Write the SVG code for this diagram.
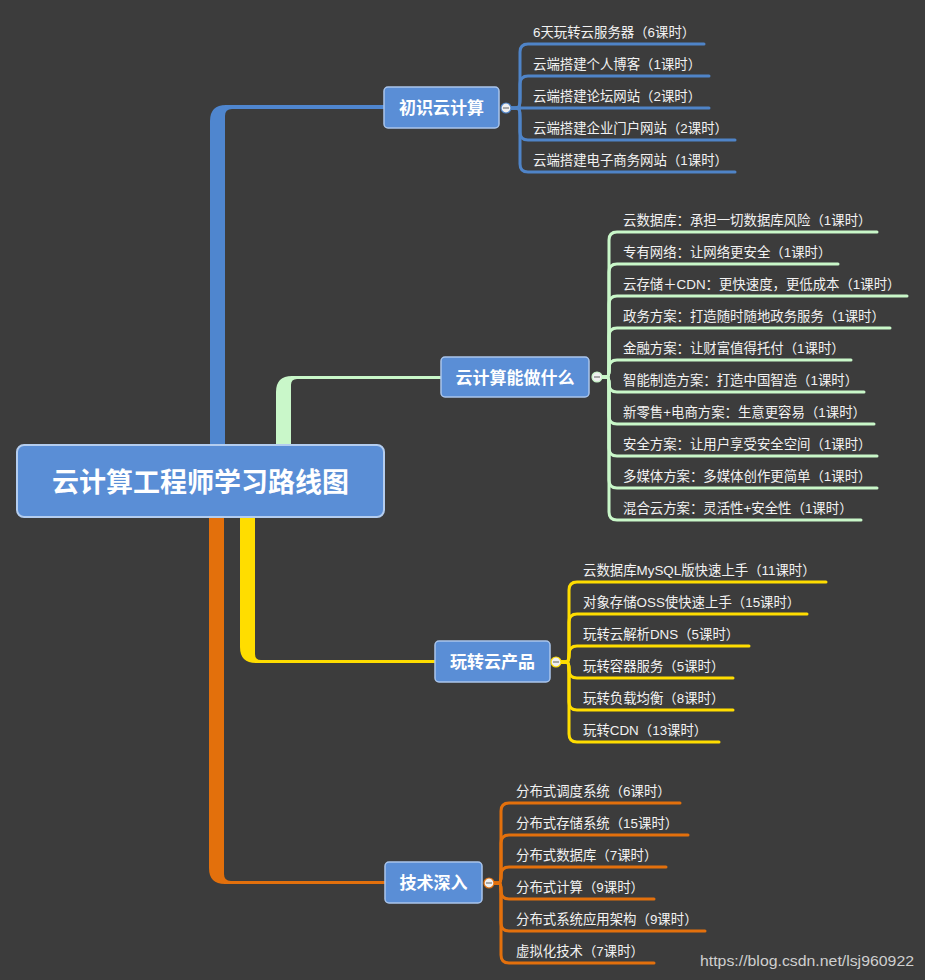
<svg xmlns="http://www.w3.org/2000/svg" width="925" height="980" viewBox="0 0 925 980">
<style>
.bg{fill:#3c3c3c}
.box{fill:#5a8ed6;stroke:#aac5ec;stroke-width:1.5}
.rootbox{fill:#5a8ed6;stroke:#b4cdef;stroke-width:2}
.rt{font-family:"Noto Sans CJK SC",sans-serif;font-weight:bold;font-size:27px;fill:#ffffff;text-anchor:middle}
.bt{font-family:"Noto Sans CJK SC",sans-serif;font-weight:bold;font-size:17px;fill:#ffffff;text-anchor:middle}
.lt{font-family:"Liberation Sans","Noto Sans CJK SC",sans-serif;font-size:13.4px;fill:#f2f2f2}
.c1{stroke:#4f84c8;fill:none;stroke-width:3;stroke-linecap:round}
.c2{stroke:#c9f7c9;fill:none;stroke-width:3;stroke-linecap:round}
.c3{stroke:#ffdd00;fill:none;stroke-width:3;stroke-linecap:round}
.c4{stroke:#e3700c;fill:none;stroke-width:3;stroke-linecap:round}
.knob{fill:#f0f0f0;stroke-width:1.2}
.minus{stroke:#777;stroke-width:1.2}
.wm{font-family:"Liberation Sans",sans-serif;font-size:15px;fill:#cfcfcf}
</style>
<rect class="bg" x="0" y="0" width="925" height="980"/>
<g id="connectors">
  <path fill="#4f86cf" d="M210 450 L210 121 Q210 105 226 105 L385 105 L385 109 L232 109 Q225 109 225 116 L225 450 Z"/>
  <path fill="#c9f7c9" d="M276 450 L276 392 Q276 376 292 376 L441 376 L441 379 L297 379 Q291 379 291 385 L291 450 Z"/>
  <path fill="#ffdd00" d="M240 512 L240 647 Q240 663 256 663 L435 663 L435 660 L261 660 Q255 660 255 654 L255 512 Z"/>
  <path fill="#e3700c" d="M209 512 L209 868 Q209 884 225 884 L385 884 L385 881 L231 881 Q224 881 224 874 L224 512 Z"/>
  <!-- branch 1 leaves -->
  <path class="c1" d="M511 108 C520 108 520 108 520 98 L520 52 Q520 44 528 44 L704 44"/>
  <path class="c1" d="M511 108 C520 108 520 108 520 98 L520 84 Q520 76 528 76 L709 76"/>
  <path class="c1" d="M511 108 L709 108"/>
  <path class="c1" d="M511 108 C520 108 520 108 520 118 L520 132 Q520 140 528 140 L735 140"/>
  <path class="c1" d="M511 108 C520 108 520 108 520 118 L520 164 Q520 172 528 172 L735 172"/>
  <!-- branch 2 leaves -->
  <path class="c2" d="M602 377 C609 377 609 377 609 367 L609 240 Q609 232 617 232 L877 232"/>
  <path class="c2" d="M602 377 C609 377 609 377 609 367 L609 272 Q609 264 617 264 L838 264"/>
  <path class="c2" d="M602 377 C609 377 609 377 609 367 L609 304 Q609 296 617 296 L907 296"/>
  <path class="c2" d="M602 377 C609 377 609 377 609 367 L609 336 Q609 328 617 328 L890 328"/>
  <path class="c2" d="M602 377 C609 377 609 377 609 368 Q609 360 617 360 L851 360"/>
  <path class="c2" d="M602 377 C609 377 609 377 609 384 Q609 392 617 392 L864 392"/>
  <path class="c2" d="M602 377 C609 377 609 377 609 387 L609 416 Q609 424 617 424 L874 424"/>
  <path class="c2" d="M602 377 C609 377 609 377 609 387 L609 448 Q609 456 617 456 L877 456"/>
  <path class="c2" d="M602 377 C609 377 609 377 609 387 L609 480 Q609 488 617 488 L877 488"/>
  <path class="c2" d="M602 377 C609 377 609 377 609 387 L609 512 Q609 520 617 520 L861 520"/>
  <!-- branch 3 leaves -->
  <path class="c3" d="M561 662 C569 662 569 662 569 652 L569 590 Q569 582 577 582 L826 582"/>
  <path class="c3" d="M561 662 C569 662 569 662 569 652 L569 622 Q569 614 577 614 L807 614"/>
  <path class="c3" d="M561 662 C569 662 569 662 569 654 Q569 646 577 646 L749 646"/>
  <path class="c3" d="M561 662 C569 662 569 662 569 670 Q569 678 577 678 L733 678"/>
  <path class="c3" d="M561 662 C569 662 569 662 569 672 L569 702 Q569 710 577 710 L733 710"/>
  <path class="c3" d="M561 662 C569 662 569 662 569 672 L569 734 Q569 742 577 742 L719 742"/>
  <!-- branch 4 leaves -->
  <path class="c4" d="M494 883 C501 883 501 883 501 873 L501 811 Q501 803 509 803 L680 803"/>
  <path class="c4" d="M494 883 C501 883 501 883 501 873 L501 843 Q501 835 509 835 L688 835"/>
  <path class="c4" d="M494 883 C501 883 501 883 501 875 Q501 867 509 867 L666 867"/>
  <path class="c4" d="M494 883 C501 883 501 883 501 891 Q501 899 509 899 L654 899"/>
  <path class="c4" d="M494 883 C501 883 501 883 501 893 L501 923 Q501 931 509 931 L705 931"/>
  <path class="c4" d="M494 883 C501 883 501 883 501 893 L501 955 Q501 963 509 963 L654 963"/>
</g>
<g id="root">
  <rect class="rootbox" x="17" y="445" width="367" height="72" rx="7"/>
  <text class="rt" x="200.5" y="492">云计算工程师学习路线图</text>
</g>
<g id="b1">
  <rect class="box" x="384" y="87" width="115" height="41" rx="4"/>
  <text class="bt" x="441.5" y="114">初识云计算</text>
  <circle class="knob" cx="506" cy="108" r="5" stroke="#4f84c8"/>
  <line class="minus" x1="503" y1="108" x2="509" y2="108"/>
</g>
<g id="b1-leaves">
  <text class="lt" x="533" y="37">6天玩转云服务器（6课时）</text>
  <text class="lt" x="533" y="69">云端搭建个人博客（1课时）</text>
  <text class="lt" x="533" y="101">云端搭建论坛网站（2课时）</text>
  <text class="lt" x="533" y="133">云端搭建企业门户网站（2课时）</text>
  <text class="lt" x="533" y="165">云端搭建电子商务网站（1课时）</text>
</g>
<g id="b2">
  <rect class="box" x="441" y="357" width="148" height="40" rx="4"/>
  <text class="bt" x="515" y="383.5">云计算能做什么</text>
  <circle class="knob" cx="597" cy="377" r="5" stroke="#c9f7c9"/>
  <line class="minus" x1="594" y1="377" x2="600" y2="377"/>
</g>
<g id="b2-leaves">
  <text class="lt" x="623" y="225">云数据库：承担一切数据库风险（1课时）</text>
  <text class="lt" x="623" y="257">专有网络：让网络更安全（1课时）</text>
  <text class="lt" x="623" y="289">云存储＋CDN：更快速度，更低成本（1课时）</text>
  <text class="lt" x="623" y="321">政务方案：打造随时随地政务服务（1课时）</text>
  <text class="lt" x="623" y="353">金融方案：让财富值得托付（1课时）</text>
  <text class="lt" x="623" y="385">智能制造方案：打造中国智造（1课时）</text>
  <text class="lt" x="623" y="417">新零售+电商方案：生意更容易（1课时）</text>
  <text class="lt" x="623" y="449">安全方案：让用户享受安全空间（1课时）</text>
  <text class="lt" x="623" y="481">多媒体方案：多媒体创作更简单（1课时）</text>
  <text class="lt" x="623" y="513">混合云方案：灵活性+安全性（1课时）</text>
</g>
<g id="b3">
  <rect class="box" x="435" y="641" width="115" height="41" rx="4"/>
  <text class="bt" x="492.5" y="668">玩转云产品</text>
  <circle class="knob" cx="556" cy="662" r="5" stroke="#ffdd00"/>
  <line class="minus" x1="553" y1="662" x2="559" y2="662"/>
</g>
<g id="b3-leaves">
  <text class="lt" x="583" y="575">云数据库MySQL版快速上手（11课时）</text>
  <text class="lt" x="583" y="607">对象存储OSS使快速上手（15课时）</text>
  <text class="lt" x="583" y="639">玩转云解析DNS（5课时）</text>
  <text class="lt" x="583" y="671">玩转容器服务（5课时）</text>
  <text class="lt" x="583" y="703">玩转负载均衡（8课时）</text>
  <text class="lt" x="583" y="735">玩转CDN（13课时）</text>
</g>
<g id="b4">
  <rect class="box" x="385" y="862" width="97" height="41" rx="4"/>
  <text class="bt" x="433.5" y="889">技术深入</text>
  <circle class="knob" cx="489" cy="883" r="5" stroke="#e3700c"/>
  <line class="minus" x1="486" y1="883" x2="492" y2="883"/>
</g>
<g id="b4-leaves">
  <text class="lt" x="516" y="796">分布式调度系统（6课时）</text>
  <text class="lt" x="516" y="828">分布式存储系统（15课时）</text>
  <text class="lt" x="516" y="860">分布式数据库（7课时）</text>
  <text class="lt" x="516" y="892">分布式计算（9课时）</text>
  <text class="lt" x="516" y="924">分布式系统应用架构（9课时）</text>
  <text class="lt" x="516" y="956">虚拟化技术（7课时）</text>
</g>
<text class="wm" x="700" y="966" textLength="214" lengthAdjust="spacingAndGlyphs">https://blog.csdn.net/lsj960922</text>
</svg>
